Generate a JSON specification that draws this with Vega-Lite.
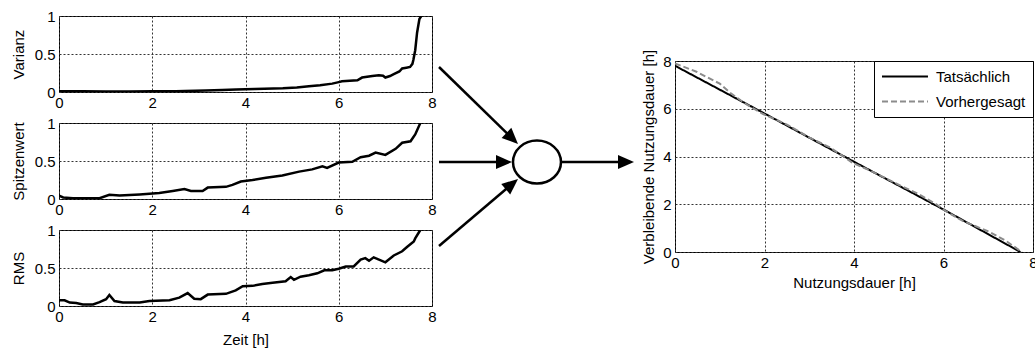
{
  "$schema": "https://vega.github.io/schema/vega-lite/v6.json",
  "padding": {"left": 10, "top": 8, "right": 0, "bottom": 0},
  "config": {
    "font": "Liberation Sans",
    "view": {"stroke": "black", "strokeWidth": 1},
    "axis": {
      "labelFont": "Liberation Sans", "labelFontSize": 15, "labelColor": "black",
      "titleFont": "Liberation Sans", "titleFontSize": 15, "titleFontWeight": "normal", "titleColor": "black",
      "domain": false, "ticks": false,
      "gridColor": "#333333", "gridDash": [2, 2], "gridOpacity": 1, "gridWidth": 1,
      "labelPadding": 4, "labelOverlap": false
    },
    "legend": {"labelFont": "Liberation Sans", "labelColor": "black"}
  },
  "datasets": {
    "varianz": [
      {"t": 0, "v": 0.01}, {"t": 0.5, "v": 0.01}, {"t": 1, "v": 0.008}, {"t": 1.5, "v": 0.008}, {"t": 2, "v": 0.01},
      {"t": 2.5, "v": 0.01}, {"t": 2.7, "v": 0.012}, {"t": 3.15, "v": 0.02}, {"t": 3.5, "v": 0.025}, {"t": 3.8, "v": 0.032},
      {"t": 4.2, "v": 0.04}, {"t": 4.8, "v": 0.05}, {"t": 5.1, "v": 0.06}, {"t": 5.36, "v": 0.075}, {"t": 5.6, "v": 0.09},
      {"t": 5.86, "v": 0.11}, {"t": 6.0, "v": 0.13}, {"t": 6.07, "v": 0.14}, {"t": 6.4, "v": 0.155}, {"t": 6.5, "v": 0.19},
      {"t": 6.72, "v": 0.21}, {"t": 6.86, "v": 0.22}, {"t": 6.95, "v": 0.215}, {"t": 7.0, "v": 0.19}, {"t": 7.1, "v": 0.21},
      {"t": 7.18, "v": 0.235}, {"t": 7.3, "v": 0.27}, {"t": 7.36, "v": 0.31}, {"t": 7.45, "v": 0.32}, {"t": 7.53, "v": 0.33},
      {"t": 7.58, "v": 0.37}, {"t": 7.6, "v": 0.42}, {"t": 7.64, "v": 0.55}, {"t": 7.68, "v": 0.78}, {"t": 7.73, "v": 0.96},
      {"t": 7.77, "v": 1.0}
    ],
    "spitze": [
      {"t": 0, "v": 0.045}, {"t": 0.09, "v": 0.02}, {"t": 0.3, "v": 0.01}, {"t": 0.87, "v": 0.01}, {"t": 1.08, "v": 0.055},
      {"t": 1.3, "v": 0.045}, {"t": 1.73, "v": 0.06}, {"t": 2.15, "v": 0.08}, {"t": 2.44, "v": 0.105}, {"t": 2.69, "v": 0.13},
      {"t": 2.83, "v": 0.105}, {"t": 3.08, "v": 0.105}, {"t": 3.19, "v": 0.15}, {"t": 3.58, "v": 0.16}, {"t": 3.72, "v": 0.185},
      {"t": 3.9, "v": 0.23}, {"t": 4.15, "v": 0.25}, {"t": 4.44, "v": 0.28}, {"t": 4.79, "v": 0.31}, {"t": 5.15, "v": 0.36},
      {"t": 5.43, "v": 0.39}, {"t": 5.65, "v": 0.43}, {"t": 5.75, "v": 0.41}, {"t": 6.0, "v": 0.48}, {"t": 6.29, "v": 0.49},
      {"t": 6.47, "v": 0.55}, {"t": 6.65, "v": 0.57}, {"t": 6.79, "v": 0.61}, {"t": 7.0, "v": 0.58}, {"t": 7.22, "v": 0.66},
      {"t": 7.36, "v": 0.74}, {"t": 7.54, "v": 0.76}, {"t": 7.64, "v": 0.85}, {"t": 7.75, "v": 1.0}
    ],
    "rms": [
      {"t": 0, "v": 0.075}, {"t": 0.12, "v": 0.075}, {"t": 0.23, "v": 0.045}, {"t": 0.37, "v": 0.04}, {"t": 0.51, "v": 0.02},
      {"t": 0.73, "v": 0.02}, {"t": 0.87, "v": 0.05}, {"t": 1.01, "v": 0.09}, {"t": 1.08, "v": 0.145}, {"t": 1.19, "v": 0.065},
      {"t": 1.37, "v": 0.045}, {"t": 1.73, "v": 0.045}, {"t": 1.94, "v": 0.065}, {"t": 2.37, "v": 0.075}, {"t": 2.58, "v": 0.11},
      {"t": 2.76, "v": 0.17}, {"t": 2.9, "v": 0.095}, {"t": 3.04, "v": 0.09}, {"t": 3.19, "v": 0.15}, {"t": 3.58, "v": 0.16},
      {"t": 3.79, "v": 0.205}, {"t": 3.94, "v": 0.26}, {"t": 4.15, "v": 0.265}, {"t": 4.36, "v": 0.29}, {"t": 4.58, "v": 0.305},
      {"t": 4.86, "v": 0.325}, {"t": 4.97, "v": 0.38}, {"t": 5.04, "v": 0.345}, {"t": 5.18, "v": 0.385}, {"t": 5.36, "v": 0.405},
      {"t": 5.54, "v": 0.43}, {"t": 5.69, "v": 0.47}, {"t": 5.86, "v": 0.47}, {"t": 6.0, "v": 0.49}, {"t": 6.15, "v": 0.52},
      {"t": 6.32, "v": 0.52}, {"t": 6.47, "v": 0.61}, {"t": 6.57, "v": 0.63}, {"t": 6.65, "v": 0.595}, {"t": 6.75, "v": 0.64},
      {"t": 7.0, "v": 0.575}, {"t": 7.18, "v": 0.665}, {"t": 7.36, "v": 0.72}, {"t": 7.47, "v": 0.78}, {"t": 7.61, "v": 0.85},
      {"t": 7.64, "v": 0.89}, {"t": 7.73, "v": 0.98}, {"t": 7.75, "v": 1.0}
    ],
    "rul": [
      {"s": "Tatsächlich", "t": 0, "r": 7.8}, {"s": "Tatsächlich", "t": 2, "r": 5.8}, {"s": "Tatsächlich", "t": 4, "r": 3.78},
      {"s": "Tatsächlich", "t": 6, "r": 1.78}, {"s": "Tatsächlich", "t": 7.72, "r": 0.0},
      {"s": "Vorhergesagt", "t": 0, "r": 7.9}, {"s": "Vorhergesagt", "t": 0.48, "r": 7.55}, {"s": "Vorhergesagt", "t": 1.0, "r": 7.05},
      {"s": "Vorhergesagt", "t": 1.23, "r": 6.67}, {"s": "Vorhergesagt", "t": 1.6, "r": 6.18}, {"s": "Vorhergesagt", "t": 1.97, "r": 5.78},
      {"s": "Vorhergesagt", "t": 2.49, "r": 5.35}, {"s": "Vorhergesagt", "t": 3.01, "r": 4.79}, {"s": "Vorhergesagt", "t": 3.46, "r": 4.38},
      {"s": "Vorhergesagt", "t": 3.75, "r": 4.02}, {"s": "Vorhergesagt", "t": 3.98, "r": 3.72}, {"s": "Vorhergesagt", "t": 4.35, "r": 3.42},
      {"s": "Vorhergesagt", "t": 4.94, "r": 2.87}, {"s": "Vorhergesagt", "t": 5.46, "r": 2.41}, {"s": "Vorhergesagt", "t": 5.84, "r": 2.0},
      {"s": "Vorhergesagt", "t": 6.06, "r": 1.7}, {"s": "Vorhergesagt", "t": 6.43, "r": 1.3}, {"s": "Vorhergesagt", "t": 7.03, "r": 0.84},
      {"s": "Vorhergesagt", "t": 7.4, "r": 0.46}, {"s": "Vorhergesagt", "t": 7.75, "r": 0.0}
    ],
    "shafts": [
      {"x": 0, "y": 17.0, "x2": 34.85, "y2": 39.9},
      {"x": 0, "y": 48.67, "x2": 30.2, "y2": 48.67},
      {"x": 0, "y": 76.67, "x2": 34.55, "y2": 56.9},
      {"x": 60.89, "y": 48.67, "x2": 90.59, "y2": 48.67}
    ],
    "heads": [
      {"x": 39.11, "y": 42.67, "a": 43.9},
      {"x": 36.14, "y": 48.67, "a": 0},
      {"x": 39.11, "y": 54.33, "a": -39.9},
      {"x": 96.53, "y": 48.67, "a": 0}
    ],
    "node": [
      {"x": 48.51, "y": 48.67}
    ]
  },
  "spacing": 0,
  "resolve": {"scale": {"color": "independent", "strokeDash": "independent"}},
  "hconcat": [
    {
      "bounds": "flush",
      "spacing": 31,
      "vconcat": [
        {
          "width": 373, "height": 76,
          "data": {"name": "varianz"},
          "mark": {"type": "line", "color": "black", "strokeWidth": 2.5, "clip": true},
          "encoding": {
            "x": {"field": "t", "type": "quantitative", "scale": {"domain": [0, 8], "nice": false},
                  "axis": {"values": [0, 2, 4, 6, 8], "title": null, "labelPadding": 3, "labelFlush": false}},
            "y": {"field": "v", "type": "quantitative", "scale": {"domain": [0, 1], "nice": false},
                  "axis": {"values": [0, 0.5, 1], "title": "Varianz", "titlePadding": 8, "format": "~g"}}
          }
        },
        {
          "width": 373, "height": 76,
          "data": {"name": "spitze"},
          "mark": {"type": "line", "color": "black", "strokeWidth": 2.5, "clip": true},
          "encoding": {
            "x": {"field": "t", "type": "quantitative", "scale": {"domain": [0, 8], "nice": false},
                  "axis": {"values": [0, 2, 4, 6, 8], "title": null, "labelPadding": 3, "labelFlush": false}},
            "y": {"field": "v", "type": "quantitative", "scale": {"domain": [0, 1], "nice": false},
                  "axis": {"values": [0, 0.5, 1], "title": "Spitzenwert", "titlePadding": 8, "format": "~g"}}
          }
        },
        {
          "width": 373, "height": 76,
          "data": {"name": "rms"},
          "mark": {"type": "line", "color": "black", "strokeWidth": 2.5, "clip": true},
          "encoding": {
            "x": {"field": "t", "type": "quantitative", "scale": {"domain": [0, 8], "nice": false},
                  "axis": {"values": [0, 2, 4, 6, 8], "title": "Zeit [h]", "labelPadding": 3, "labelFlush": false, "titlePadding": 8}},
            "y": {"field": "v", "type": "quantitative", "scale": {"domain": [0, 1], "nice": false},
                  "axis": {"values": [0, 0.5, 1], "title": "RMS", "titlePadding": 8, "format": "~g"}}
          }
        }
      ]
    },
    {
      "width": 202, "height": 300,
      "view": {"stroke": null},
      "layer": [
        {
          "data": {"name": "shafts"},
          "mark": {"type": "rule", "strokeWidth": 2.5, "color": "black"},
          "encoding": {
            "x": {"field": "x", "type": "quantitative", "scale": {"domain": [0, 100], "nice": false, "zero": false}, "axis": null},
            "y": {"field": "y", "type": "quantitative", "scale": {"domain": [0, 100], "nice": false, "zero": false, "reverse": true}, "axis": null},
            "x2": {"field": "x2"},
            "y2": {"field": "y2"}
          }
        },
        {
          "data": {"name": "heads"},
          "mark": {"type": "point", "shape": "M0,0 L-2,-0.875 L-2,0.875 Z", "filled": true, "color": "black", "size": 256, "opacity": 1, "strokeWidth": 0},
          "encoding": {
            "x": {"field": "x", "type": "quantitative"},
            "y": {"field": "y", "type": "quantitative"},
            "angle": {"field": "a", "type": "quantitative", "scale": null}
          }
        },
        {
          "data": {"name": "node"},
          "mark": {"type": "point", "shape": "M1.116,0 C1.116,0.5523 0.6164,1 0,1 C-0.6164,1 -1.116,0.5523 -1.116,0 C-1.116,-0.5523 -0.6164,-1 0,-1 C0.6164,-1 1.116,-0.5523 1.116,0 Z", "filled": true, "fill": "white", "stroke": "black", "strokeWidth": 2.5, "size": 1849, "opacity": 1, "fillOpacity": 1, "strokeOpacity": 1},
          "encoding": {
            "x": {"field": "x", "type": "quantitative"},
            "y": {"field": "y", "type": "quantitative"}
          }
        }
      ]
    },
    {
      "bounds": "flush",
      "spacing": 0,
      "resolve": {"scale": {"color": "independent", "strokeDash": "independent"}},
      "vconcat": [
        {
          "width": 358, "height": 45,
          "view": {"stroke": null},
          "data": {"values": [{}]},
          "mark": {"type": "text", "text": ""},
          "encoding": {}
        },
        {
          "width": 358, "height": 191,
          "data": {"name": "rul"},
          "mark": {"type": "line", "strokeWidth": 2, "clip": true},
          "encoding": {
            "x": {"field": "t", "type": "quantitative", "scale": {"domain": [0, 8], "nice": false},
                  "axis": {"values": [0, 2, 4, 6, 8], "title": "Nutzungsdauer [h]", "labelPadding": 3, "labelFlush": false, "titlePadding": 5}},
            "y": {"field": "r", "type": "quantitative", "scale": {"domain": [0, 8], "nice": false},
                  "axis": {"values": [0, 2, 4, 6, 8], "title": "Verbleibende Nutzungsdauer [h]", "titlePadding": 6}},
            "color": {"field": "s", "type": "nominal",
                      "scale": {"domain": ["Tatsächlich", "Vorhergesagt"], "range": ["black", "#8c8c8c"]},
                      "legend": {"title": null, "orient": "top-right", "offset": 0, "strokeColor": "black", "fillColor": "white", "padding": 7, "symbolType": "M-1,0 L5.13,0", "symbolSize": 225, "symbolStrokeWidth": 2, "labelFontSize": 15, "labelOffset": 38, "rowPadding": 8, "cornerRadius": 0}},
            "strokeDash": {"field": "s", "type": "nominal",
                      "scale": {"domain": ["Tatsächlich", "Vorhergesagt"], "range": [[1, 0], [6, 3]]},
                      "legend": {"title": null, "orient": "top-right", "offset": 0, "strokeColor": "black", "fillColor": "white", "padding": 7, "symbolType": "M-1,0 L5.13,0", "symbolSize": 225, "symbolStrokeWidth": 2, "labelFontSize": 15, "labelOffset": 38, "rowPadding": 8, "cornerRadius": 0}}
          }
        }
      ]
    }
  ]
}
